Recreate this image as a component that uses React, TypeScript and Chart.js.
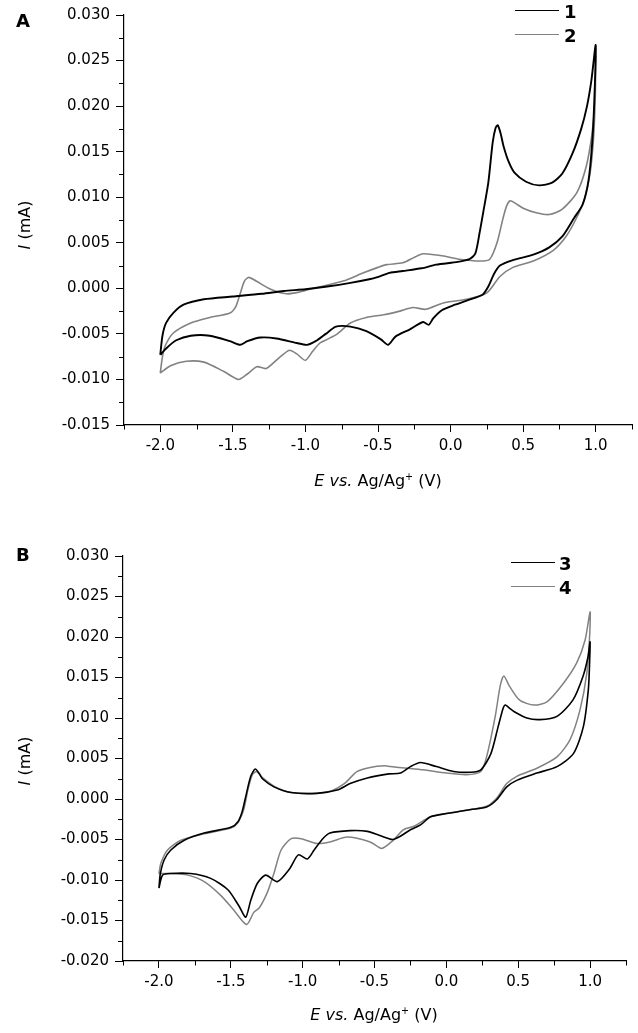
import React, { useEffect, useRef } from "react";
import { Chart, registerables } from "chart.js";

Chart.register(...registerables);

// ---------- Panel A, series 1 (black) ----------
const s1FwdE = [-2.0, -1.985, -1.96, -1.91, -1.84, -1.70, -1.50, -1.30, -1.15, -1.0, -0.85, -0.69, -0.56, -0.51, -0.42, -0.33, -0.20, -0.10, 0.05, 0.13, 0.17, 0.20, 0.23, 0.26, 0.29, 0.31, 0.325, 0.345, 0.365, 0.40, 0.44, 0.52, 0.61, 0.70, 0.77, 0.84, 0.90, 0.94, 0.97, 1.0];
const s1FwdI = [-0.0073, -0.0052, -0.0038, -0.0027, -0.0018, -0.0012, -0.0009, -0.0006, -0.0003, -0.0001, 0.0002, 0.0006, 0.0010, 0.0012, 0.0017, 0.0019, 0.0022, 0.0026, 0.0029, 0.0032, 0.0038, 0.0061, 0.0088, 0.0116, 0.0160, 0.0176, 0.0179, 0.0170, 0.0156, 0.0139, 0.0127, 0.0117, 0.0113, 0.0116, 0.0126, 0.0148, 0.0175, 0.0200, 0.0228, 0.0267];
const s1RevE = [0.99, 0.975, 0.95, 0.91, 0.85, 0.77, 0.68, 0.57, 0.43, 0.34, 0.30, 0.26, 0.22, 0.12, 0.03, -0.06, -0.12, -0.15, -0.19, -0.28, -0.38, -0.43, -0.48, -0.58, -0.69, -0.79, -0.86, -0.93, -0.99, -1.06, -1.20, -1.31, -1.40, -1.45, -1.52, -1.66, -1.79, -1.89, -1.96, -2.0];
const s1RevI = [0.0205, 0.0158, 0.0118, 0.0092, 0.0077, 0.0057, 0.0045, 0.0037, 0.0031, 0.0025, 0.0016, 0.0002, -0.0007, -0.0013, -0.0018, -0.0024, -0.0033, -0.0040, -0.0037, -0.0045, -0.0053, -0.0062, -0.0056, -0.0047, -0.0042, -0.0042, -0.0050, -0.0058, -0.0062, -0.0060, -0.0055, -0.0054, -0.0058, -0.0062, -0.0058, -0.0052, -0.0052, -0.0057, -0.0066, -0.0073];

// ---------- Panel A, series 2 (gray) ----------
const s2FwdE = [-2.0, -1.985, -1.966, -1.91, -1.79, -1.66, -1.52, -1.48, -1.45, -1.42, -1.39, -1.34, -1.24, -1.13, -1.04, -0.92, -0.74, -0.60, -0.50, -0.44, -0.33, -0.25, -0.19, -0.07, 0.06, 0.20, 0.27, 0.32, 0.36, 0.385, 0.41, 0.45, 0.50, 0.59, 0.68, 0.77, 0.87, 0.935, 0.975, 0.995, 1.0];
const s2FwdI = [-0.0093, -0.0075, -0.0063, -0.0049, -0.0038, -0.0032, -0.0027, -0.0020, -0.0006, 0.0008, 0.0012, 0.0008, -0.0001, -0.0006, -0.0004, 0.0001, 0.0008, 0.0017, 0.0023, 0.0026, 0.0028, 0.0034, 0.0038, 0.0036, 0.0032, 0.0030, 0.0032, 0.0050, 0.0076, 0.0090, 0.0096, 0.0093, 0.0088, 0.0083, 0.0081, 0.0087, 0.0105, 0.0134, 0.0170, 0.0205, 0.0255];
const s2RevE = [0.997, 0.985, 0.96, 0.92, 0.87, 0.80, 0.71, 0.57, 0.43, 0.34, 0.25, 0.11, -0.05, -0.17, -0.26, -0.35, -0.46, -0.58, -0.69, -0.78, -0.85, -0.90, -0.95, -1.0, -1.06, -1.11, -1.18, -1.27, -1.335, -1.40, -1.46, -1.565, -1.70, -1.82, -1.93, -2.0];
const s2RevI = [0.0211, 0.0165, 0.0125, 0.0097, 0.0078, 0.0058, 0.0042, 0.0030, 0.0023, 0.0013, -0.0005, -0.0012, -0.0016, -0.0023, -0.0021, -0.0025, -0.0029, -0.0032, -0.0038, -0.0050, -0.0056, -0.0060, -0.0069, -0.0079, -0.0072, -0.0068, -0.0076, -0.0088, -0.0086, -0.0094, -0.0100, -0.0091, -0.0081, -0.0080, -0.0085, -0.0093];

// ---------- Panel B, series 3 (black) ----------
const s3FwdE = [-2.0, -1.99, -1.963, -1.917, -1.824, -1.685, -1.50, -1.45, -1.42, -1.396, -1.361, -1.33, -1.30, -1.28, -1.20, -1.08, -0.90, -0.76, -0.67, -0.55, -0.40, -0.32, -0.25, -0.18, -0.07, 0.05, 0.17, 0.24, 0.31, 0.36, 0.395, 0.41, 0.44, 0.47, 0.56, 0.65, 0.77, 0.88, 0.95, 0.985, 1.0];
const s3FwdI = [-0.0110, -0.0092, -0.0075, -0.0063, -0.0051, -0.0042, -0.0035, -0.0028, -0.0015, 0.0003, 0.0028, 0.0037, 0.0031, 0.0025, 0.0015, 0.0008, 0.0007, 0.0011, 0.0019, 0.0026, 0.0031, 0.0032, 0.0040, 0.0045, 0.0040, 0.0034, 0.0033, 0.0036, 0.0056, 0.0089, 0.0112, 0.0116, 0.0112, 0.0108, 0.0100, 0.0098, 0.0102, 0.0122, 0.0151, 0.0175, 0.0194];
const s3RevE = [0.997, 0.988, 0.953, 0.884, 0.77, 0.63, 0.49, 0.42, 0.35, 0.28, 0.17, 0.0, -0.11, -0.18, -0.25, -0.32, -0.37, -0.40, -0.55, -0.67, -0.81, -0.86, -0.92, -0.967, -1.03, -1.09, -1.176, -1.257, -1.315, -1.361, -1.396, -1.44, -1.52, -1.64, -1.78, -1.92, -1.975, -2.0];
const s3RevI = [0.0170, 0.0135, 0.0089, 0.0056, 0.0040, 0.0032, 0.0023, 0.0015, -0.0001, -0.0010, -0.0013, -0.0018, -0.0022, -0.0032, -0.0038, -0.0046, -0.0050, -0.0049, -0.0040, -0.0039, -0.0042, -0.0049, -0.0063, -0.0074, -0.0069, -0.0086, -0.0102, -0.0094, -0.0104, -0.0125, -0.0146, -0.0133, -0.0112, -0.0098, -0.0092, -0.0092, -0.0094, -0.0110];

// ---------- Panel B, series 4 (gray) ----------
const s4FwdE = [-2.0, -1.986, -1.94, -1.847, -1.685, -1.50, -1.45, -1.41, -1.38, -1.35, -1.32, -1.29, -1.20, -1.08, -0.90, -0.80, -0.71, -0.62, -0.53, -0.43, -0.39, -0.27, -0.16, 0.0, 0.14, 0.24, 0.28, 0.34, 0.375, 0.40, 0.44, 0.51, 0.61, 0.70, 0.815, 0.907, 0.965, 1.0];
const s4FwdI = [-0.0092, -0.0079, -0.0063, -0.0051, -0.0043, -0.0036, -0.0029, -0.0013, 0.0012, 0.0030, 0.0034, 0.0028, 0.0016, 0.0008, 0.0007, 0.0010, 0.0019, 0.0034, 0.0039, 0.0041, 0.0040, 0.0038, 0.0036, 0.0032, 0.0030, 0.0034, 0.0052, 0.0102, 0.0140, 0.0152, 0.0139, 0.0122, 0.0116, 0.0120, 0.0143, 0.0168, 0.0196, 0.0231];
const s4RevE = [0.998, 0.977, 0.93, 0.86, 0.77, 0.63, 0.49, 0.42, 0.35, 0.28, 0.17, 0.0, -0.11, -0.23, -0.30, -0.37, -0.45, -0.53, -0.69, -0.81, -0.90, -1.01, -1.08, -1.15, -1.20, -1.245, -1.30, -1.34, -1.39, -1.48, -1.57, -1.685, -1.80, -1.92, -2.0];
const s4RevI = [0.0205, 0.0155, 0.0110, 0.0073, 0.0052, 0.0038, 0.0028, 0.0019, 0.0001, -0.0009, -0.0013, -0.0018, -0.0022, -0.0034, -0.0038, -0.0051, -0.0061, -0.0053, -0.0047, -0.0053, -0.0055, -0.0049, -0.0049, -0.0063, -0.0092, -0.0115, -0.0134, -0.0140, -0.0155, -0.0137, -0.0119, -0.0102, -0.0094, -0.0092, -0.0092];

// ---------- axes ----------
const xRange = [-2.25, 1.25];
const xMinorStep = 0.25;
const xMajorStep = 0.5;
const yRangeA = [-0.015, 0.03];
const yRangeB = [-0.02, 0.03];
const yMinorStep = 0.0025;
const yMajorStep = 0.005;

const legendA = ["1", "2"];
const legendB = ["3", "4"];
const BLACK = "#000000";
const GRAY = "#828282";
const FONT = "'DejaVu Sans', 'Liberation Sans', Arial, sans-serif";

const isMult = (v: number, m: number) => Math.abs(v / m - Math.round(v / m)) < 1e-6;
const fmt = (v: number, d: number) => (Math.abs(v) < 1e-9 ? 0 : v).toFixed(d);

const toPoints = (e1: number[], i1: number[], e2: number[], i2: number[]) =>
  e1.map((x, k) => ({ x, y: i1[k] })).concat(e2.map((x, k) => ({ x, y: i2[k] })));

const minorTicks = {
  id: "minorTicks",
  afterDraw(chart: any) {
    const ctx = chart.ctx;
    const xs = chart.scales.x;
    const ys = chart.scales.y;
    ctx.save();
    ctx.strokeStyle = "#000";
    ctx.lineWidth = 1;
    ctx.beginPath();
    for (const t of xs.ticks) {
      if (isMult(t.value, xMajorStep)) continue;
      const p = Math.round(xs.getPixelForValue(t.value)) + 0.5;
      ctx.moveTo(p, chart.chartArea.bottom);
      ctx.lineTo(p, chart.chartArea.bottom + 4.5);
    }
    for (const t of ys.ticks) {
      if (isMult(t.value, yMajorStep)) continue;
      const p = Math.round(ys.getPixelForValue(t.value)) + 0.5;
      ctx.moveTo(chart.chartArea.left, p);
      ctx.lineTo(chart.chartArea.left - 5, p);
    }
    ctx.stroke();
    ctx.restore();
  },
};

type Series = { data: { x: number; y: number }[]; color: string; width: number };

function Panel(props: {
  top: number;
  height: number;
  padTop: number;
  padRight: number;
  yW: number;
  xH: number;
  yRange: number[];
  series: Series[];
}) {
  const ref = useRef<HTMLCanvasElement>(null);
  useEffect(() => {
    const chart = new Chart(ref.current as HTMLCanvasElement, {
      type: "scatter",
      data: {
        datasets: props.series.map((s) => ({
          data: s.data,
          showLine: true,
          borderColor: s.color,
          backgroundColor: s.color,
          borderWidth: s.width,
          pointRadius: 0,
          tension: 0.25,
          fill: false,
        })),
      },
      options: {
        responsive: false,
        animation: false,
        devicePixelRatio: 1,
        layout: { padding: { top: props.padTop, right: props.padRight, left: 0, bottom: 0 } },
        plugins: { legend: { display: false }, tooltip: { enabled: false } },
        scales: {
          x: {
            type: "linear",
            min: xRange[0],
            max: xRange[1],
            afterFit: (s: any) => {
              s.height = props.xH;
            },
            ticks: {
              stepSize: xMinorStep,
              autoSkip: false,
              maxRotation: 0,
              padding: 5,
              color: "#000",
              font: { family: FONT, size: 15 },
              callback: (v: any) => (isMult(Number(v), xMajorStep) ? fmt(Number(v), 1) : ""),
            },
            grid: {
              drawOnChartArea: false,
              drawTicks: true,
              tickLength: 7,
              tickWidth: 1,
              tickColor: (c: any) => (c.tick && isMult(c.tick.value, xMajorStep) ? "#000" : "rgba(0,0,0,0)"),
            },
            border: { display: true, color: "#000", width: 1.2 },
          },
          y: {
            type: "linear",
            min: props.yRange[0],
            max: props.yRange[1],
            afterFit: (s: any) => {
              s.width = props.yW;
            },
            ticks: {
              stepSize: yMinorStep,
              autoSkip: false,
              padding: 6,
              color: "#000",
              font: { family: FONT, size: 15 },
              callback: (v: any) => (isMult(Number(v), yMajorStep) ? fmt(Number(v), 3) : ""),
            },
            grid: {
              drawOnChartArea: false,
              drawTicks: true,
              tickLength: 8,
              tickWidth: 1,
              tickColor: (c: any) => (c.tick && isMult(c.tick.value, yMajorStep) ? "#000" : "rgba(0,0,0,0)"),
            },
            border: { display: true, color: "#000", width: 1.2 },
          },
        },
      },
      plugins: [minorTicks],
    } as any);
    return () => chart.destroy();
  }, []);
  return (
    <canvas
      ref={ref}
      width={638}
      height={props.height}
      style={{ position: "absolute", left: 0, top: props.top, width: 638, height: props.height, display: "block" }}
    />
  );
}

const abs = (left: number, top: number, extra: React.CSSProperties = {}): React.CSSProperties => ({
  position: "absolute",
  left,
  top,
  whiteSpace: "nowrap",
  fontFamily: FONT,
  color: "#000",
  ...extra,
});

function XTitle({ cx, baseline }: { cx: number; baseline: number }) {
  return (
    <div style={abs(cx, baseline - 13.5, { fontSize: 16, lineHeight: "16px", transform: "translateX(-50%)" })}>
      <i>E vs.</i> Ag/Ag
      <sup style={{ fontSize: "0.6em", verticalAlign: "0.6em", lineHeight: 0 }}>+</sup> (V)
    </div>
  );
}

function YTitle({ cx, cy }: { cx: number; cy: number }) {
  return (
    <div
      style={abs(cx, cy, {
        fontSize: 16,
        lineHeight: "16px",
        transform: "translate(-50%, -50%) rotate(-90deg)",
      })}
    >
      <i>I</i> (mA)
    </div>
  );
}

function LegendItem({ x, y, label, color, textX }: { x: number; y: number; label: string; color: string; textX: number }) {
  return (
    <>
      <div style={{ position: "absolute", left: x, top: y - 0.75, width: 44, height: 0, borderTop: `1.5px solid ${color}` }} />
      <div style={abs(textX, y + 7 - 15.2, { fontSize: 18, lineHeight: "18px", fontWeight: "bold" })}>{label}</div>
    </>
  );
}

export default function App() {
  const seriesA: Series[] = [
    { data: toPoints(s1FwdE, s1FwdI, s1RevE, s1RevI), color: BLACK, width: 1.9 },
    { data: toPoints(s2FwdE, s2FwdI, s2RevE, s2RevI), color: GRAY, width: 1.6 },
  ];
  const seriesB: Series[] = [
    { data: toPoints(s3FwdE, s3FwdI, s3RevE, s3RevI), color: BLACK, width: 1.6 },
    { data: toPoints(s4FwdE, s4FwdI, s4RevE, s4RevI), color: GRAY, width: 1.5 },
  ];
  return (
    <div style={{ position: "absolute", left: 0, top: 0, width: 638, height: 1033, background: "#fff", overflow: "hidden" }}>
      <Panel top={0} height={500} padTop={15} padRight={6} yW={124} xH={75} yRange={yRangeA} series={seriesA} />
      <Panel top={500} height={533} padTop={56} padRight={12} yW={123} xH={72} yRange={yRangeB} series={seriesB} />

      <div style={abs(16, 27 - 15.2, { fontSize: 18, lineHeight: "18px", fontWeight: "bold" })}>A</div>
      <div style={abs(16, 561 - 15.2, { fontSize: 18, lineHeight: "18px", fontWeight: "bold" })}>B</div>

      <YTitle cx={25} cy={225} />
      <YTitle cx={25} cy={761} />
      <XTitle cx={378} baseline={486} />
      <XTitle cx={374} baseline={1020} />

      <LegendItem x={515} y={11} label={legendA[0]} color={BLACK} textX={564} />
      <LegendItem x={515} y={35} label={legendA[1]} color={GRAY} textX={564} />
      <LegendItem x={511} y={563} label={legendB[0]} color={BLACK} textX={559} />
      <LegendItem x={511} y={587} label={legendB[1]} color={GRAY} textX={559} />
    </div>
  );
}
